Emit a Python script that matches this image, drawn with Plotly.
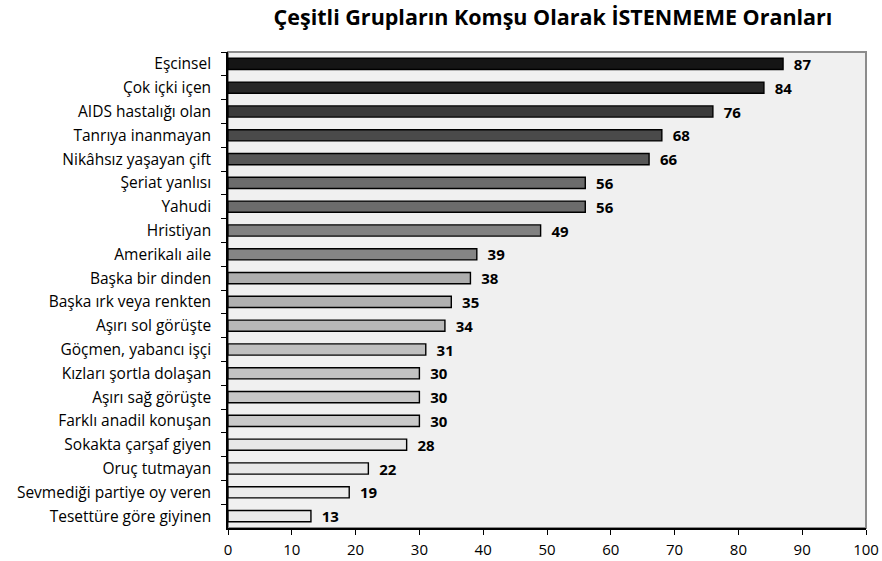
import plotly.graph_objects as go

categories = ["Eşcinsel", "Çok içki içen", "AIDS hastalığı olan", "Tanrıya inanmayan",
              "Nikâhsız yaşayan çift", "Şeriat yanlısı", "Yahudi", "Hristiyan",
              "Amerikalı aile", "Başka bir dinden", "Başka ırk veya renkten",
              "Aşırı sol görüşte", "Göçmen, yabancı işçi", "Kızları şortla dolaşan",
              "Aşırı sağ görüşte", "Farklı anadil konuşan", "Sokakta çarşaf giyen",
              "Oruç tutmayan", "Sevmediği partiye oy veren", "Tesettüre göre giyinen"]
values = [87, 84, 76, 68, 66, 56, 56, 49, 39, 38, 35, 34, 31, 30, 30, 30, 28, 22, 19, 13]
bar_colors = ["#151515", "#272727", "#3b3b3b", "#4a4a4a", "#575757", "#6c6c6c", "#6c6c6c",
              "#818181", "#858585", "#aeaeae", "#b0b0b0", "#b8b8b8", "#bfbfbf", "#c3c3c3",
              "#c7c7c7", "#c9c9c9", "#e8e8e8", "#e8e8e8", "#ebebeb", "#ebebeb"]
x_ticks = [0, 10, 20, 30, 40, 50, 60, 70, 80, 90, 100]

FONT = "'Open Sans', sans-serif"
NB = "\u00a0"

W, H = 882, 561

fig = go.Figure(go.Bar(
    x=values, y=categories, orientation="h",
    marker=dict(color=bar_colors, line=dict(color="#000000", width=1.4)),
    text=[NB + NB + str(v) for v in values], textposition="outside", constraintext="none",
    textfont=dict(family=FONT, size=15, color="#000000", weight="bold"),
    cliponaxis=False, hoverinfo="skip",
))

fig.update_layout(
    width=W, height=H,
    margin=dict(l=228, r=16, t=52, b=33, autoexpand=False),
    paper_bgcolor="#ffffff", plot_bgcolor="#f0f0f0",
    bargap=0.53,
    showlegend=False,
    title=dict(text="<b>Çeşitli Grupların Komşu Olarak İSTENMEME Oranları</b>",
               x=553 / W, xanchor="center", y=1 - 17 / H, yanchor="middle",
               font=dict(family=FONT, size=21.5, color="#000000")),
    font=dict(family=FONT, size=15, color="#000000"),
)
fig.update_xaxes(range=[0, 100], tickvals=x_ticks, showgrid=False, zeroline=False,
                 showline=True, linecolor="#000000", linewidth=1.5,
                 ticks="outside", ticklen=5, tickcolor="#000000", automargin=False,
                 ticklabelstandoff=2,
                 tickfont=dict(family=FONT, size=15))
fig.update_yaxes(autorange="reversed", showgrid=False, showline=True,
                 linecolor="#000000", linewidth=1.5, ticks="outside", ticklen=5,
                 tickcolor="#000000", tickson="boundaries", automargin=False,
                 ticklabelstandoff=12,
                 tickfont=dict(family=FONT, size=15.5))
fig.add_shape(type="rect", xref="paper", yref="paper", x0=0, x1=1, y0=0, y1=1,
              line=dict(color="#8c8c8c", width=2), layer="below")

fig.write_html("out.html", config={"displayModeBar": False},
               post_script="document.body.style.margin='0';document.body.style.overflow='hidden';")
